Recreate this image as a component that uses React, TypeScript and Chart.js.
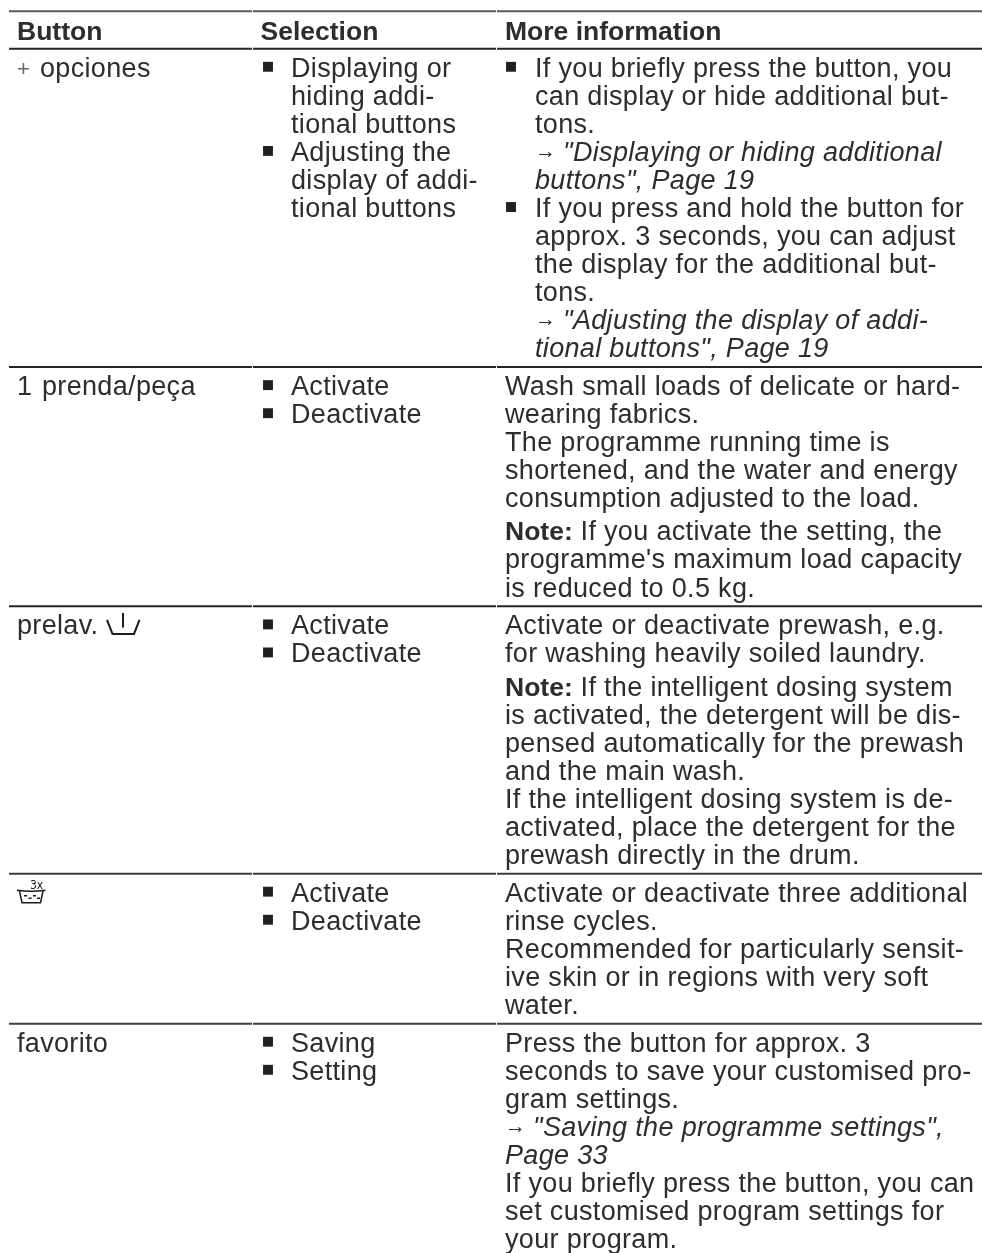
import React, { useEffect, useRef } from "react";
import { Chart, registerables } from "chart.js";

Chart.register(...registerables);

// Table content. "• " starts a bulleted item, "> " continues it, **..** is bold, _.._ is italic.
const columnHeaders = ["Button", "Selection", "More information"];
const buttonLabels = ["+ opciones", "1 prenda/peça", "prelav.", "", "favorito"];
const selectionLines = [
  ["• Displaying or", "> hiding addi-", "> tional buttons", "• Adjusting the", "> display of addi-", "> tional buttons"],
  ["• Activate", "• Deactivate"],
  ["• Activate", "• Deactivate"],
  ["• Activate", "• Deactivate"],
  ["• Saving", "• Setting"],
];
const informationLines = [
  [
    "• If you briefly press the button, you",
    "> can display or hide additional but-",
    "> tons.",
    '> → _"Displaying or hiding additional_',
    '> _buttons", Page 19_',
    "• If you press and hold the button for",
    "> approx. 3 seconds, you can adjust",
    "> the display for the additional but-",
    "> tons.",
    '> → _"Adjusting the display of addi-_',
    '> _tional buttons", Page 19_',
  ],
  [
    "Wash small loads of delicate or hard-",
    "wearing fabrics.",
    "The programme running time is",
    "shortened, and the water and energy",
    "consumption adjusted to the load.",
    "**Note:** If you activate the setting, the",
    "programme's maximum load capacity",
    "is reduced to 0.5 kg.",
  ],
  [
    "Activate or deactivate prewash, e.g.",
    "for washing heavily soiled laundry.",
    "**Note:** If the intelligent dosing system",
    "is activated, the detergent will be dis-",
    "pensed automatically for the prewash",
    "and the main wash.",
    "If the intelligent dosing system is de-",
    "activated, place the detergent for the",
    "prewash directly in the drum.",
  ],
  [
    "Activate or deactivate three additional",
    "rinse cycles.",
    "Recommended for particularly sensit-",
    "ive skin or in regions with very soft",
    "water.",
  ],
  [
    "Press the button for approx. 3",
    "seconds to save your customised pro-",
    "gram settings.",
    '→ _"Saving the programme settings",_',
    "_Page 33_",
    "If you briefly press the button, you can",
    "set customised program settings for",
    "your program.",
  ],
];

const X_MAX = 982;
const Y_MIN = -0.403;
const Y_MAX = 44.27;
const NOTE_GAP = 0.18;
const ROW_TAIL = 0.35;
const HEADER_RULE = 1.335;
const HEADER_BASE = 1.02;
const SEGMENTS = [[9, 252], [253, 496], [497, 982]];
const COL_X = [17, 260.5, 505];
const BULLET_X = [0, 268, 511];
const INDENT_X = [0, 291, 535];
const FONT = '"Liberation Sans", Arial, sans-serif';
const SIZE = 27;
const BOLD_SIZE = 26.5;
const TRACKING = "0.33px";
const INK = "#2e2c2d";

type Placed = { line: string; col: number; y: number };

function layout() {
  const placed: Placed[] = [];
  const rules: number[] = [0, HEADER_RULE];
  const starts: number[] = [];
  let top = HEADER_RULE;
  informationLines.forEach((lines, r) => {
    starts.push(top);
    let y = top + 1;
    lines.forEach((line, i) => {
      if (line.startsWith("**Note:**")) y += NOTE_GAP;
      placed.push({ line, col: 2, y });
      if (i < lines.length - 1) y += 1;
    });
    selectionLines[r].forEach((line, i) => placed.push({ line, col: 1, y: top + 1 + i }));
    top = y + ROW_TAIL;
    if (r < informationLines.length - 1) rules.push(top);
  });
  return { placed, rules, starts };
}

function parse(text: string) {
  const out: { t: string; s: string }[] = [];
  const re = /\*\*(.+?)\*\*|_(.+?)_|(→ )|([^*_→]+)/g;
  let m: RegExpExecArray | null;
  while ((m = re.exec(text))) {
    if (m[1]) out.push({ t: m[1], s: "b" });
    else if (m[2]) out.push({ t: m[2], s: "i" });
    else if (m[3]) out.push({ t: "→", s: "a" });
    else if (m[4]) out.push({ t: m[4], s: "r" });
  }
  return out;
}

export default function App() {
  const ref = useRef<HTMLCanvasElement>(null);
  useEffect(() => {
    const { placed, rules, starts } = layout();
    const bullets = placed
      .filter((p) => p.line.startsWith("• "))
      .map((p) => ({ x: BULLET_X[p.col], y: p.y - 0.357 }));

    const ruleSets = rules.flatMap((y, i) =>
      SEGMENTS.map(([a, b]) => ({
        type: "line" as const,
        data: [{ x: a, y }, { x: b, y }],
        borderColor: i === 0 ? "#5a5a5a" : i >= 4 ? "#3c3c3c" : "#262425",
        borderWidth: 2,
        pointRadius: 0,
        showLine: true,
      }))
    );

    const textPlugin = {
      id: "tableText",
      afterDatasetsDraw(chart: any) {
        const c = chart.ctx as CanvasRenderingContext2D;
        const sx = chart.scales.x;
        const sy = chart.scales.y;
        const setFont = (s: string) => {
          c.font =
            s === "b"
              ? `bold ${BOLD_SIZE}px ${FONT}`
              : s === "i"
              ? `italic ${SIZE}px ${FONT}`
              : s === "a"
              ? `21px ${FONT}`
              : `${SIZE}px ${FONT}`;
          (c as any).letterSpacing = s === "b" ? "0px" : TRACKING;
        };
        const put = (text: string, xv: number, yv: number) => {
          let x = sx.getPixelForValue(xv);
          const y = sy.getPixelForValue(yv);
          for (const seg of parse(text)) {
            setFont(seg.s);
            c.fillText(seg.t, x, seg.s === "a" ? y - 3 : y);
            x += seg.s === "a" ? 28 : c.measureText(seg.t).width;
          }
        };
        c.save();
        c.textBaseline = "alphabetic";
        c.textAlign = "left";
        c.fillStyle = INK;
        columnHeaders.forEach((h, i) => put(`**${h}**`, COL_X[i], HEADER_BASE));
        placed.forEach((p) => {
          if (p.line.startsWith("• ") || p.line.startsWith("> ")) put(p.line.slice(2), INDENT_X[p.col], p.y);
          else put(p.line, COL_X[p.col], p.y);
        });
        buttonLabels.forEach((label, r) => {
          if (!label) return;
          const yv = starts[r] + 1;
          if (label.startsWith("+ ")) {
            c.fillStyle = "#666";
            setFont("r");
            c.font = `22px ${FONT}`;
            c.fillText("+", sx.getPixelForValue(COL_X[0]), sy.getPixelForValue(yv) - 0.5);
            c.fillStyle = INK;
            put(label.slice(2), 40, yv);
          } else if (label.startsWith("1 ")) {
            put("1", COL_X[0], yv);
            put(label.slice(2), 42, yv);
          } else put(label, COL_X[0], yv);
        });

        // Icons in the Button column
        const b3 = sy.getPixelForValue(starts[2] + 1);
        c.strokeStyle = "#1d1b1c";
        c.lineWidth = 2;
        c.beginPath();
        c.moveTo(107, b3 - 14.5);
        c.lineTo(112.5, b3 - 0.5);
        c.lineTo(134, b3 - 0.5);
        c.lineTo(139.5, b3 - 14.5);
        c.moveTo(123, b3 - 21.5);
        c.lineTo(123, b3 - 7);
        c.stroke();

        const b4 = sy.getPixelForValue(starts[3] + 1);
        c.strokeStyle = "#1d1b1c";
        c.lineWidth = 1.5;
        c.beginPath();
        c.moveTo(17, b4 - 11.5);
        c.quadraticCurveTo(31, b4 - 9.5, 45.5, b4 - 11.5);
        c.moveTo(19.5, b4 - 10.5);
        c.lineTo(22, b4 + 1);
        c.lineTo(40.5, b4 + 1);
        c.lineTo(43, b4 - 10.5);
        c.moveTo(24, b4 - 6);
        c.lineTo(27, b4 - 6);
        c.moveTo(28.5, b4 - 3.5);
        c.lineTo(31.5, b4 - 3.5);
        c.moveTo(33, b4 - 6);
        c.lineTo(36, b4 - 6);
        c.moveTo(37, b4 - 3.5);
        c.lineTo(40, b4 - 3.5);
        c.stroke();
        c.font = '12px "DejaVu Sans Condensed", "DejaVu Sans", sans-serif';
        (c as any).letterSpacing = "0px";
        c.fillStyle = "#1d1b1c";
        c.fillText("3x", 30, b4 - 13);
        c.restore();
      },
    };

    const chart = new Chart(ref.current!, {
      type: "scatter",
      data: {
        datasets: [
          ...ruleSets,
          {
            type: "scatter" as const,
            data: bullets,
            pointStyle: "rect",
            pointRadius: 7,
            pointBackgroundColor: "#231f20",
            pointBorderWidth: 0,
            showLine: false,
          },
        ] as any,
      },
      options: {
        animation: false,
        responsive: false,
        devicePixelRatio: 1,
        layout: { padding: 0, autoPadding: false },
        events: [],
        plugins: { legend: { display: false }, tooltip: { enabled: false }, title: { display: false } },
        scales: {
          x: { type: "linear", display: false, min: 0, max: X_MAX },
          y: { type: "linear", display: false, min: Y_MIN, max: Y_MAX, reverse: true },
        },
      },
      plugins: [textPlugin],
    });
    return () => chart.destroy();
  }, []);
  return (
    <div style={{ position: "absolute", left: 0, top: 0, width: X_MAX, height: 1253, background: "#fff" }}>
      <canvas ref={ref} width={X_MAX} height={1253} style={{ display: "block" }} />
    </div>
  );
}
